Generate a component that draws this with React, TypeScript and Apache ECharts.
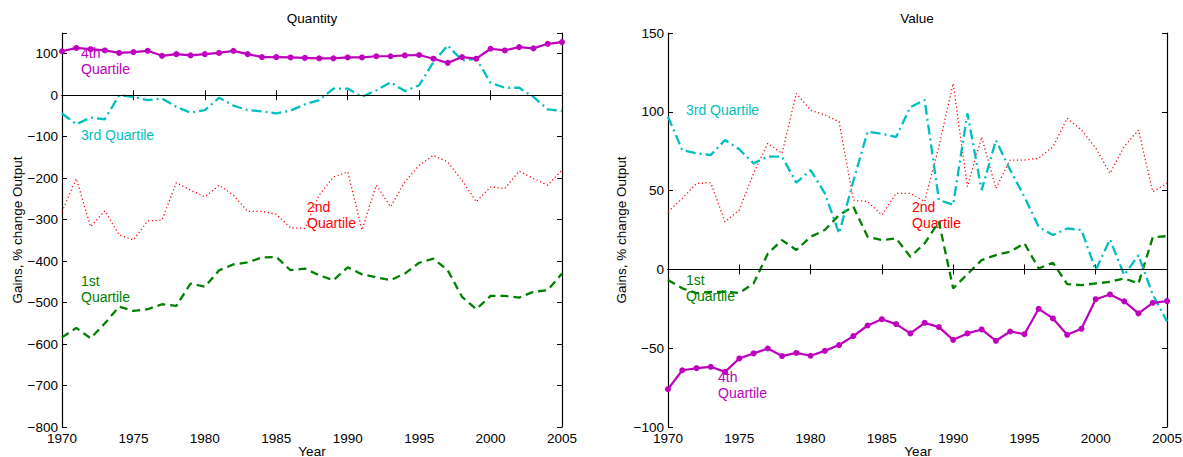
import React, { useEffect, useRef } from "react";
import * as echarts from "echarts";

const years = [1970,1971,1972,1973,1974,1975,1976,1977,1978,1979,1980,1981,1982,1983,1984,1985,1986,1987,1988,1989,1990,1991,1992,1993,1994,1995,1996,1997,1998,1999,2000,2001,2002,2003,2004,2005];

// Quantity panel
const qty4th = [106,114,111,108,102,104,107,95,99,96,99,102,107,99,92,92,91,90,89,89,91,91,94,94,96,97,88,78,92,88,112,108,116,113,124,128];
const qty3rd = [-44,-70,-54,-58,0,-4,-12,-8,-28,-42,-36,-6,-25,-36,-39,-44,-37,-22,-12,16,16,-4,12,31,10,24,80,120,84,88,30,18,18,-4,-34,-38];
const qty2nd = [-281,-201,-317,-279,-337,-349,-303,-301,-211,-229,-245,-217,-241,-280,-280,-287,-320,-321,-241,-197,-185,-325,-217,-269,-209,-169,-145,-161,-205,-257,-221,-225,-183,-201,-217,-181];
const qty1st = [-584,-561,-586,-550,-510,-520,-516,-504,-508,-454,-462,-422,-408,-403,-391,-390,-422,-418,-434,-446,-415,-432,-439,-446,-430,-404,-394,-422,-486,-516,-484,-484,-488,-474,-470,-430];

// Value panel
const val4th = [-76,-64,-62.7,-61.8,-65,-56.5,-53.3,-50.2,-55,-53,-54.8,-51.7,-48,-42.3,-35.6,-31.6,-34.7,-40.6,-33.9,-36.6,-44.7,-40.6,-38.1,-45.3,-39.4,-41.1,-25,-31.1,-41.5,-37.7,-18.9,-15.9,-20.3,-27.9,-21.2,-20.1];
const val3rd = [96.9,75.7,73.6,72.6,82.1,76.2,67.3,71.5,71.5,55,63,48.3,22.9,56,87.4,86,84,103,107.5,44,41,99,50.3,82,63,46.1,27,21.8,26,25,-0.4,19,-3.6,9,-16,-33];
const val2nd = [36.6,45,54.6,55,30.2,37.7,61,80,73.6,111.7,101,98,93.7,44,43,34.5,48.3,48.3,43,78,118,52.5,84,51.4,69.4,69.4,70.5,77.8,95.9,88.4,77,61,78,88.4,49.3,54.6];
const val1st = [-6.8,-12,-15,-14.2,-14.2,-15,-8.9,10,18.6,12.3,20.7,25,34.5,39.7,20.7,18.6,19.7,8,16.5,30.2,-12,-3,5.9,9.1,11.2,16.5,0.6,4.2,-9.3,-10,-8.9,-7.9,-5.7,-8.9,20.3,21.1];

const qtyTicks = { min: -800, max: 150, interval: 100 };
const valTicks = { min: -100, max: 150, interval: 50 };
const yearTicks = { min: 1970, max: 2005, interval: 5 };

const MAGENTA = "#BF00BF";
const CYAN = "#00BFBF";
const RED = "#FF0000";
const GREEN = "#008000";
const FONT = "'Liberation Sans', Arial, Helvetica, sans-serif";

const pairs = (vals: number[]) => years.map((y, i) => [y, vals[i]]);

function fmt(v: number, step: number) {
  if (Math.round(v) % step !== 0) return "";
  return v < 0 ? "\u2212" + Math.abs(v) : String(v);
}

export default function App() {
  const ref = useRef<HTMLDivElement>(null);
  useEffect(() => {
    if (!ref.current) return;
    const chart = echarts.init(ref.current, undefined, { renderer: "svg" });
    const axisLine = { show: true, lineStyle: { color: "#000", width: 1.2 } };
    const tick = { show: true, inside: true, length: 5, lineStyle: { color: "#000" } };
    const lbl = { color: "#000", fontSize: 13.5, fontFamily: FONT };
    const xBottom = (gridIndex: number) => ({
      type: "value", gridIndex, position: "bottom", ...yearTicks,
      axisLine, axisTick: tick, splitLine: { show: false },
      axisLabel: { ...lbl, margin: 4, formatter: (v: number) => String(v) },
    });
    const xTop = (gridIndex: number) => ({
      type: "value", gridIndex, position: "top", ...yearTicks,
      axisLine, axisTick: tick, splitLine: { show: false }, axisLabel: { show: false },
    });
    const yLeft = (gridIndex: number, t: any) => ({
      type: "value", gridIndex, position: "left", ...t,
      axisLine, axisTick: tick, splitLine: { show: false },
      axisLabel: { ...lbl, margin: 4, formatter: (v: number) => fmt(v, t.interval) },
    });
    const yRight = (gridIndex: number, t: any) => ({
      type: "value", gridIndex, position: "right", ...t,
      axisLine, axisTick: tick, splitLine: { show: false }, axisLabel: { show: false },
    });
    const zeroLine = {
      silent: true, symbol: "none", label: { show: false },
      lineStyle: { color: "#000", width: 1, type: "solid" },
      data: [{ yAxis: 0 }],
    };
    const line = (name: string, vals: number[], xi: number, yi: number, color: string, type: any, width: number, extra: any = {}) => ({
      name, type: "line", xAxisIndex: xi, yAxisIndex: yi, data: pairs(vals),
      showSymbol: false, symbol: "none",
      lineStyle: { color, width, type },
      ...extra,
    });
    const dashDot = [10, 4, 2, 4];
    const dashed = [8, 5];
    const dotted = [1.2, 2.6];
    const magExtra = {
      showSymbol: true, symbol: "circle", symbolSize: 6,
      itemStyle: { color: MAGENTA },
    };
    const txt = (x: number, y: number, text: string, fill: string, size = 14) => ({
      type: "text", x, y, silent: true,
      style: { text, fill, fontSize: size, fontFamily: FONT, align: "left", verticalAlign: "middle", lineHeight: 16 },
    });
    const ctxt = (x: number, y: number, text: string, rotation = 0) => ({
      type: "text", x, y, rotation, silent: true,
      style: { text, fill: "#000", fontSize: 13.5, fontFamily: FONT, align: "center", verticalAlign: "middle" },
    });

    chart.setOption({
      animation: false,
      backgroundColor: "#fff",
      grid: [
        { left: 62, top: 33, width: 500, height: 394, outerBoundsMode: "none" },
        { left: 668, top: 33, width: 499, height: 394, outerBoundsMode: "none" },
      ],
      xAxis: [xBottom(0), xTop(0), xBottom(1), xTop(1)],
      yAxis: [yLeft(0, qtyTicks), yRight(0, qtyTicks), yLeft(1, valTicks), yRight(1, valTicks)],
      series: [
        line("Q 1st", qty1st, 0, 0, GREEN, dashed, 2.3, { markLine: zeroLine }),
        line("Q 2nd", qty2nd, 0, 0, RED, dotted, 1.3),
        line("Q 3rd", qty3rd, 0, 0, CYAN, dashDot, 2.3),
        line("Q 4th", qty4th, 0, 0, MAGENTA, "solid", 2.2, magExtra),
        line("V 1st", val1st, 2, 2, GREEN, dashed, 2.3, { markLine: zeroLine }),
        line("V 2nd", val2nd, 2, 2, RED, dotted, 1.3),
        line("V 3rd", val3rd, 2, 2, CYAN, dashDot, 2.3),
        line("V 4th", val4th, 2, 2, MAGENTA, "solid", 2.2, magExtra),
      ],
      graphic: [
        ctxt(312, 18, "Quantity"),
        ctxt(917, 18, "Value"),
        ctxt(312, 451, "Year"),
        ctxt(918, 451, "Year"),
        ctxt(17, 230, "Gains, % change Output", Math.PI / 2),
        ctxt(621, 230, "Gains, % change Output", Math.PI / 2),
        txt(81, 61, "4th\nQuartile", MAGENTA),
        txt(81, 135, "3rd Quartile", CYAN),
        txt(307, 215, "2nd\nQuartile", RED),
        txt(81, 289, "1st\nQuartile", GREEN),
        txt(686, 110, "3rd Quartile", CYAN),
        txt(912, 215, "2nd\nQuartile", RED),
        txt(686, 288, "1st\nQuartile", GREEN),
        txt(718, 385, "4th\nQuartile", MAGENTA),
      ],
    });
    return () => chart.dispose();
  }, []);
  return <div ref={ref} style={{ position: "absolute", left: 0, top: 0, width: 1183, height: 457 }} />;
}
